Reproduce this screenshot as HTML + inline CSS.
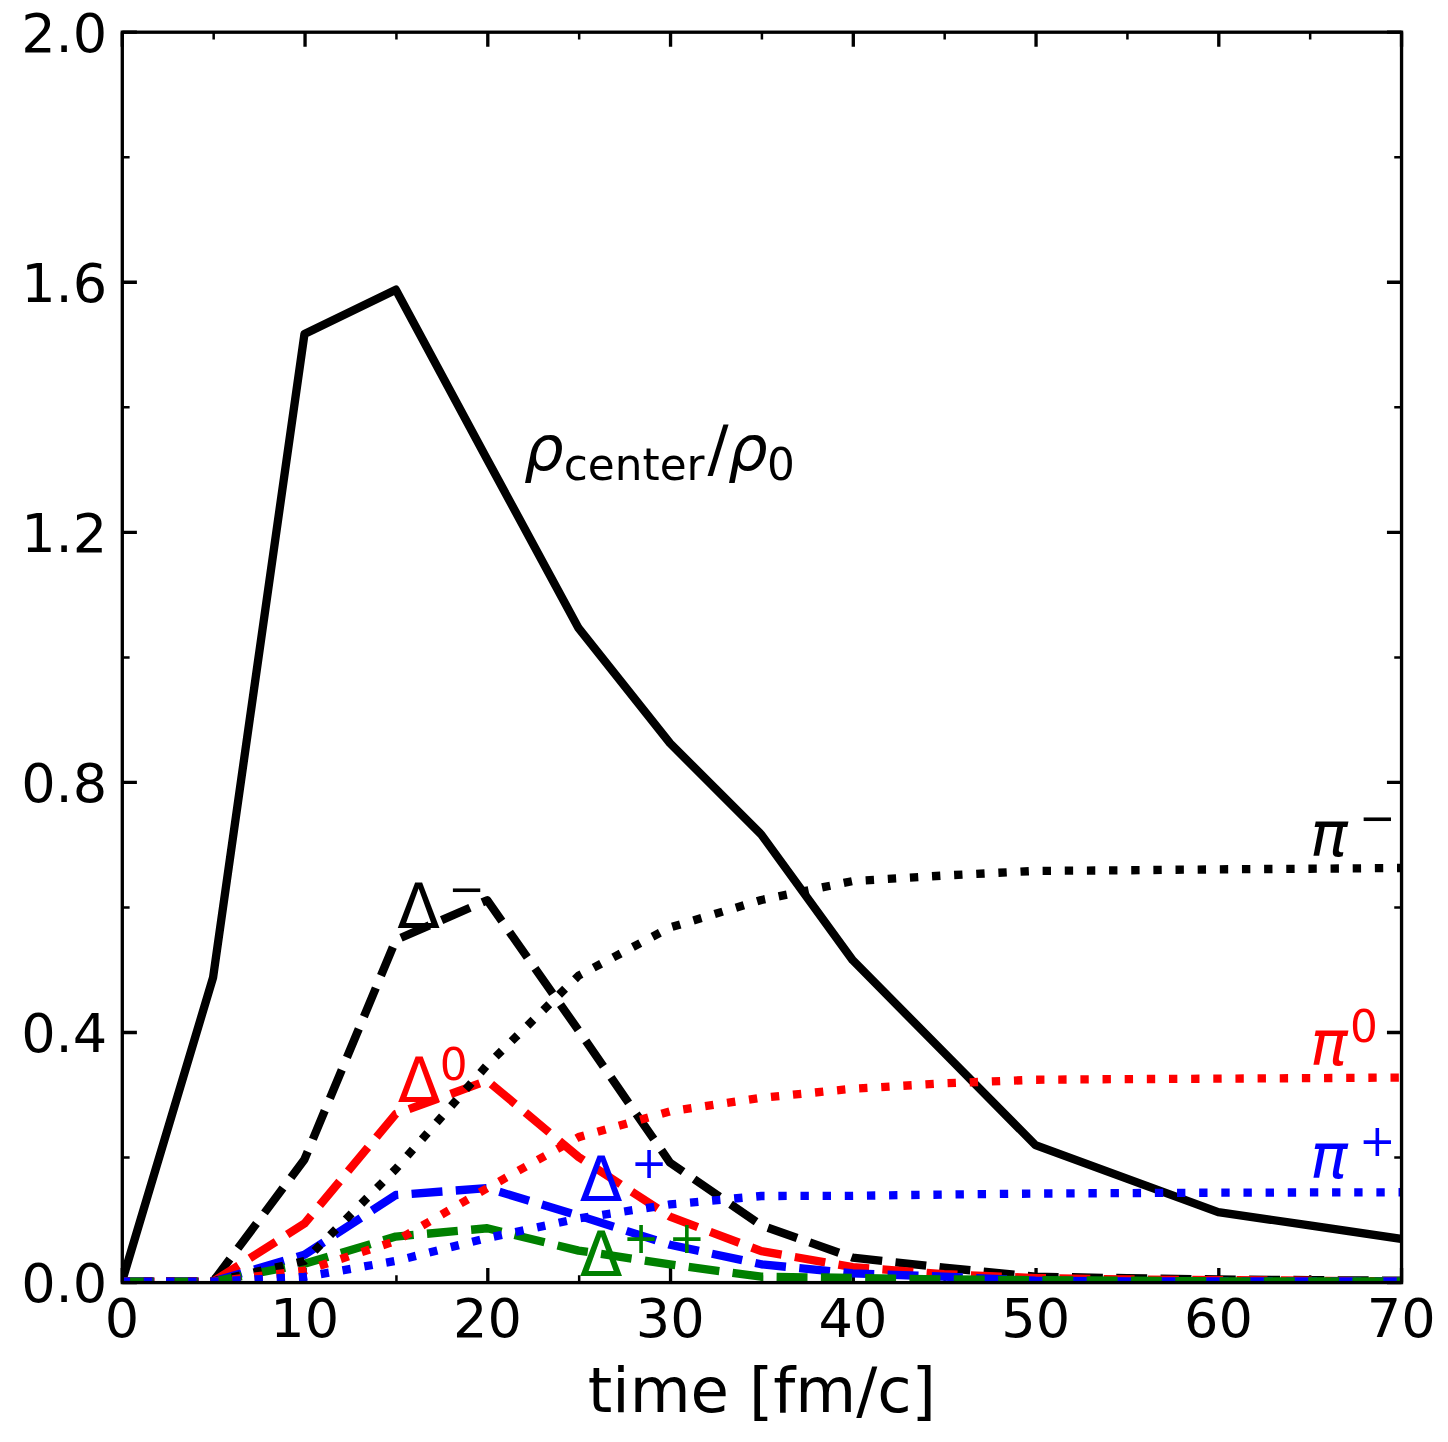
<!DOCTYPE html>
<html><head><meta charset="utf-8"><title>plot</title>
<style>
html,body{margin:0;padding:0;background:#fff;}
svg{display:block;}
text{font-family:"DejaVu Sans","Liberation Sans",sans-serif;fill:#000;}
.tk{font-size:54.17px;}
.lb{font-size:62.5px;}
.it{font-style:italic;}
</style></head><body>
<svg width="1448" height="1442" viewBox="0 0 1448 1442">
<rect width="1448" height="1442" fill="#fff"/>
<defs><clipPath id="ax"><rect x="122.3" y="32.2" width="1279.25" height="1250.40"/></clipPath></defs>
<g stroke="#000" fill="none">
<path d="M122.30 1282.6v-14.6M122.30 32.2v14.6" stroke-width="3.33"/>
<path d="M213.68 1282.6v-7.3M213.68 32.2v7.3" stroke-width="2.5"/>
<path d="M305.05 1282.6v-14.6M305.05 32.2v14.6" stroke-width="3.33"/>
<path d="M396.43 1282.6v-7.3M396.43 32.2v7.3" stroke-width="2.5"/>
<path d="M487.80 1282.6v-14.6M487.80 32.2v14.6" stroke-width="3.33"/>
<path d="M579.17 1282.6v-7.3M579.17 32.2v7.3" stroke-width="2.5"/>
<path d="M670.55 1282.6v-14.6M670.55 32.2v14.6" stroke-width="3.33"/>
<path d="M761.92 1282.6v-7.3M761.92 32.2v7.3" stroke-width="2.5"/>
<path d="M853.30 1282.6v-14.6M853.30 32.2v14.6" stroke-width="3.33"/>
<path d="M944.67 1282.6v-7.3M944.67 32.2v7.3" stroke-width="2.5"/>
<path d="M1036.05 1282.6v-14.6M1036.05 32.2v14.6" stroke-width="3.33"/>
<path d="M1127.42 1282.6v-7.3M1127.42 32.2v7.3" stroke-width="2.5"/>
<path d="M1218.80 1282.6v-14.6M1218.80 32.2v14.6" stroke-width="3.33"/>
<path d="M1310.17 1282.6v-7.3M1310.17 32.2v7.3" stroke-width="2.5"/>
<path d="M1401.55 1282.6v-14.6M1401.55 32.2v14.6" stroke-width="3.33"/>
<path d="M122.3 1282.60h14.6M1401.55 1282.60h-14.6" stroke-width="3.33"/>
<path d="M122.3 1157.56h7.3M1401.55 1157.56h-7.3" stroke-width="2.5"/>
<path d="M122.3 1032.52h14.6M1401.55 1032.52h-14.6" stroke-width="3.33"/>
<path d="M122.3 907.48h7.3M1401.55 907.48h-7.3" stroke-width="2.5"/>
<path d="M122.3 782.44h14.6M1401.55 782.44h-14.6" stroke-width="3.33"/>
<path d="M122.3 657.40h7.3M1401.55 657.40h-7.3" stroke-width="2.5"/>
<path d="M122.3 532.36h14.6M1401.55 532.36h-14.6" stroke-width="3.33"/>
<path d="M122.3 407.32h7.3M1401.55 407.32h-7.3" stroke-width="2.5"/>
<path d="M122.3 282.28h14.6M1401.55 282.28h-14.6" stroke-width="3.33"/>
<path d="M122.3 157.24h7.3M1401.55 157.24h-7.3" stroke-width="2.5"/>
<path d="M122.3 32.20h14.6M1401.55 32.20h-14.6" stroke-width="3.33"/>
</g>
<g clip-path="url(#ax)" fill="none" stroke-linejoin="round" stroke-linecap="butt">
<polyline points="121.70,1282.60 213.08,977.50 304.45,334.05 395.82,289.66 487.20,459.46 578.57,628.20 669.95,743.11 761.32,834.58 852.70,960.18 944.07,1052.65 1035.45,1145.12 1126.83,1178.57 1218.20,1212.08 1309.58,1225.46 1400.95,1238.84" stroke="#000" stroke-width="8.33" stroke-linecap="square"/>
<polyline points="121.70,1281.60 213.08,1281.60 304.45,1159.44 395.82,939.99 487.20,900.23 578.57,1030.39 669.95,1162.56 761.32,1225.39 852.70,1257.59 944.07,1267.66 1035.45,1276.66 1126.83,1278.22 1218.20,1279.47 1309.58,1280.10 1400.95,1280.72" stroke="#000" stroke-width="8.33" stroke-dasharray="30.93 13.37"/>
<polyline points="121.70,1281.60 213.08,1281.60 304.45,1223.58 395.82,1113.92 487.20,1080.66 578.57,1156.93 669.95,1216.58 761.32,1251.15 852.70,1267.16 944.07,1274.16 1035.45,1278.04 1126.83,1279.47 1218.20,1280.10 1309.58,1280.72 1400.95,1281.35" stroke="#f00" stroke-width="8.33" stroke-dasharray="30.93 13.37" stroke-dashoffset="-2"/>
<polyline points="121.70,1281.60 213.08,1281.60 304.45,1254.78 395.82,1195.01 487.20,1188.13 578.57,1215.58 669.95,1244.71 761.32,1264.28 852.70,1273.41 944.07,1276.66 1035.45,1280.72 1126.83,1281.35 1218.20,1281.35 1309.58,1281.35 1400.95,1281.35" stroke="#00f" stroke-width="8.33" stroke-dasharray="30.93 13.37" stroke-dashoffset="-1.5"/>
<polyline points="121.70,1281.60 213.08,1281.60 304.45,1263.84 395.82,1236.59 487.20,1228.27 578.57,1250.59 669.95,1264.34 761.32,1276.72 852.70,1277.91 944.07,1279.47 1035.45,1280.10 1126.83,1280.72 1218.20,1281.35 1309.58,1281.35 1400.95,1281.35" stroke="#008000" stroke-width="8.33" stroke-dasharray="30.93 13.37" stroke-dashoffset="-1"/>
<polyline points="121.70,1281.60 213.08,1281.60 304.45,1261.03 395.82,1169.00 487.20,1065.03 578.57,975.63 669.95,927.49 761.32,899.98 852.70,881.10 944.07,875.53 1035.45,870.91 1126.83,870.28 1218.20,869.34 1309.58,868.72 1400.95,867.97" stroke="#000" stroke-width="8.33" stroke-dasharray="8.36 13.79"/>
<polyline points="121.70,1281.60 213.08,1281.60 304.45,1270.72 395.82,1241.02 487.20,1188.19 578.57,1137.12 669.95,1111.42 761.32,1097.85 852.70,1088.73 944.07,1083.35 1035.45,1079.72 1126.83,1079.10 1218.20,1078.66 1309.58,1078.16 1400.95,1077.53" stroke="#f00" stroke-width="8.33" stroke-dasharray="8.36 13.79"/>
<polyline points="121.70,1281.60 213.08,1281.60 304.45,1276.97 395.82,1260.91 487.20,1238.02 578.57,1218.52 669.95,1204.45 761.32,1196.01 852.70,1195.82 944.07,1194.57 1035.45,1193.57 1126.83,1193.07 1218.20,1192.70 1309.58,1192.45 1400.95,1192.26" stroke="#00f" stroke-width="8.33" stroke-dasharray="8.36 13.79"/>
</g>
<rect x="122.3" y="32.2" width="1279.25" height="1250.40" fill="none" stroke="#000" stroke-width="3.33" stroke-linejoin="miter"/>
<text class="tk" x="121.90" y="1336.9" text-anchor="middle">0</text>
<text class="tk" x="304.65" y="1336.9" text-anchor="middle">10</text>
<text class="tk" x="487.40" y="1336.9" text-anchor="middle">20</text>
<text class="tk" x="670.15" y="1336.9" text-anchor="middle">30</text>
<text class="tk" x="852.90" y="1336.9" text-anchor="middle">40</text>
<text class="tk" x="1035.65" y="1336.9" text-anchor="middle">50</text>
<text class="tk" x="1218.40" y="1336.9" text-anchor="middle">60</text>
<text class="tk" x="1401.15" y="1336.9" text-anchor="middle">70</text>
<text class="tk" x="107.3" y="1302.20" text-anchor="end">0.0</text>
<text class="tk" x="107.3" y="1052.12" text-anchor="end">0.4</text>
<text class="tk" x="107.3" y="802.04" text-anchor="end">0.8</text>
<text class="tk" x="107.3" y="551.96" text-anchor="end">1.2</text>
<text class="tk" x="107.3" y="301.88" text-anchor="end">1.6</text>
<text class="tk" x="107.3" y="51.80" text-anchor="end">2.0</text>
<text class="lb" x="761.92" y="1411.8" text-anchor="middle">time [fm/c]</text>
<text class="lb it" x="524" y="469.7">ρ</text><text x="563.8" y="479.8" style="font-size:43.75px">center</text><text class="lb" x="707.5" y="469.7">/</text><text class="lb it" x="728" y="469.7">ρ</text><text x="767" y="479.8" style="font-size:43.75px">0</text>
<text class="lb" x="397.2" y="928" style="fill:#000">Δ</text><text x="448.2" y="904" style="fill:#000;font-size:43.75px">−</text>
<text class="lb" x="397.7" y="1102.4" style="fill:#f00">Δ</text><text x="439.7" y="1080.4" style="fill:#f00;font-size:43.75px">0</text>
<text class="lb" x="579.7" y="1201.2" style="fill:#00f">Δ</text><text x="630.7" y="1178.2" style="fill:#00f;font-size:43.75px">+</text>
<text class="lb" x="579.7" y="1276.0" style="fill:#008000">Δ</text><text x="622.7" y="1253.0" style="fill:#008000;font-size:43.75px">+</text>
<text x="668.5" y="1253.0" style="fill:#008000;font-size:43.75px">+</text>
<text class="lb it" x="1310" y="856" style="fill:#000">π</text><text x="1359" y="833" style="fill:#000;font-size:43.75px">−</text>
<text class="lb it" x="1310" y="1065" style="fill:#f00">π</text><text x="1350" y="1042" style="fill:#f00;font-size:43.75px">0</text>
<text class="lb it" x="1310" y="1178.3" style="fill:#00f">π</text><text x="1359" y="1155.8" style="fill:#00f;font-size:43.75px">+</text>
</svg>
</body></html>
